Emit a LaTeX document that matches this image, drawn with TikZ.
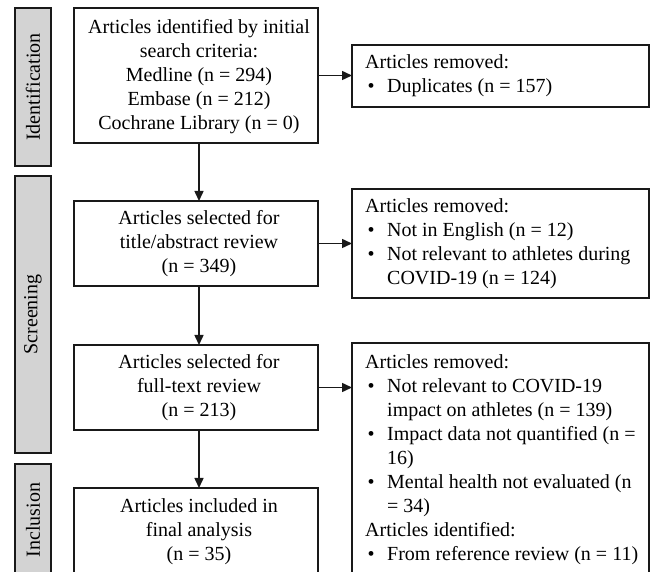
\documentclass[tikz,border=0pt]{standalone}
\usepackage{fontspec}
\setmainfont{Liberation Serif}
\usetikzlibrary{arrows.meta}
\definecolor{sidegray}{RGB}{211,211,211}
\definecolor{edge}{RGB}{25,25,25}
\newcommand\bul{\makebox[22pt][l]{\hspace{2.5pt}•}}
\newcommand\ind{\hspace*{22pt}}
\begin{document}
\begin{tikzpicture}[x=1pt,y=-1pt,
  every node/.style={font=\fontsize{20}{24}\selectfont},
  mainbox/.style={draw=edge,line width=1.6pt,anchor=north west,inner sep=0pt,outer sep=0pt,minimum width=244pt},
  maintext/.style={align=center,inner sep=0pt},
  sidebox/.style={draw=edge,fill=sidegray,line width=1.8pt,rotate=90,inner sep=0pt,outer sep=0pt,minimum height=36pt},
  rbox/.style={draw=edge,line width=1.6pt,anchor=north west,inner sep=0pt,outer sep=0pt,minimum width=297pt},
  rtext/.style={anchor=west,align=left,inner sep=0pt,xshift=13pt},
  arr/.style={draw=edge,line width=1.5pt,-{Triangle[length=10pt,width=9pt]}}
]
\useasboundingbox (0,0) rectangle (657,572);
\clip (0,0) rectangle (657,572);

% side labels
\node[sidebox,minimum width=158pt] (s1) at (33,87) {Identification};
\node[sidebox,minimum width=277pt] (s2) at (33,314.5) {Screening};
\node[sidebox,minimum width=112pt] (s3) at (33,520) {Inclusion};

% main boxes
\node[mainbox,minimum height=135pt] (b1) at (74,8) {};
\node[mainbox,minimum height=85pt] (b2) at (74,201) {};
\node[mainbox,minimum height=85pt] (b3) at (74,345) {};
\node[mainbox,minimum height=88pt] (b4) at (74,488) {};

\node[maintext] (t1) at (199,77) {Articles identified by initial\\search criteria:\\Medline (n = 294)\\Embase (n = 212)\\Cochrane Library (n = 0)};
\node[maintext] (t2) at (199,244) {Articles selected for\\title/abstract review\\(n = 349)};
\node[maintext] (t3) at (199,388) {Articles selected for\\full-text review\\(n = 213)};
\node[maintext] (t4) at (199,532) {Articles included in\\final analysis\\(n = 35)};

% right boxes
\node[rbox,minimum height=62pt] (r1) at (352,45) {};
\node[rbox,minimum height=109pt] (r2) at (352,189) {};
\node[rbox,minimum height=234pt] (r3) at (352,343) {};

\node[rtext] (u1) at (r1.west) {Articles removed:\\\bul Duplicates (n = 157)};
\node[rtext] (u2) at (r2.west) {Articles removed:\\\bul Not in English (n = 12)\\\bul Not relevant to athletes during\\\ind COVID-19 (n = 124)};
\node[rtext] (u3) at (r3.west) {Articles removed:\\\bul Not relevant to COVID-19\\\ind impact on athletes (n = 139)\\\bul Impact data not quantified (n =\\\ind 16)\\\bul Mental health not evaluated (n\\\ind = 34)\\Articles identified:\\\bul From reference review (n = 11)};

% arrows
\draw[arr] (b1.south -| t1) -- (b2.north -| t1);
\draw[arr] (b2.south -| t1) -- (b3.north -| t1);
\draw[arr] (b3.south -| t1) -- (b4.north -| t1);
\draw[arr] (b1.east) -- (b1.east -| r1.west);
\draw[arr] (b2.east) -- (b2.east -| r2.west);
\draw[arr] (b3.east) -- (b3.east -| r3.west);
\end{tikzpicture}
\end{document}
